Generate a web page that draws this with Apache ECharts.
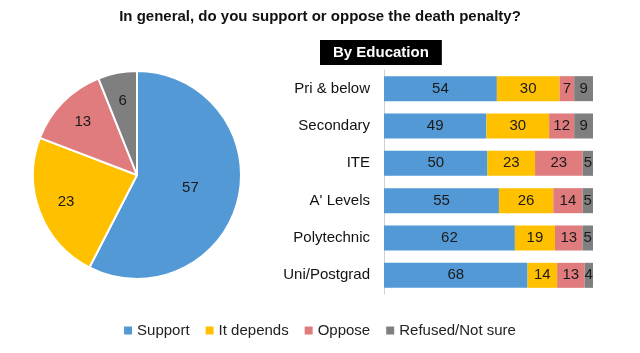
<!DOCTYPE html>
<html><head><meta charset="utf-8">
<script src="https://cdn.jsdelivr.net/npm/echarts@6/dist/echarts.min.js"></script>
<style>html,body{margin:0;padding:0;background:#fff}#c{width:640px;height:353px}</style>
</head><body><div id="c"></div>
<script>
const titleText = 'In general, do you support or oppose the death penalty?';
const subTitle = 'By Education';
const seriesNames = ['Support', 'It depends', 'Oppose', 'Refused/Not sure'];
const colors = ['#5299D5', '#FFC000', '#E07B7E', '#7F7F7F'];
const overall = [57, 23, 13, 6];
const categories = ['Pri & below', 'Secondary', 'ITE', "A' Levels", 'Polytechnic', 'Uni/Postgrad'];
const support = [54, 49, 50, 55, 62, 68];
const itDepends = [30, 30, 23, 26, 19, 14];
const oppose = [7, 12, 23, 14, 13, 13];
const refused = [9, 9, 5, 5, 5, 4];

const rows = [support, itDepends, oppose, refused];
const totals = categories.map((_, i) => rows.reduce((s, r) => s + r[i], 0));
const FONT = 'Liberation Sans, Arial, sans-serif';

const chart = echarts.init(document.getElementById('c'));
const barSeries = rows.map((r, k) => ({
  type: 'bar', name: seriesNames[k], stack: 'all',
  barCategoryGap: '33%',
  itemStyle: { color: colors[k] },
  label: { show: true, position: 'inside', color: '#1a1a1a', fontSize: 15, fontFamily: FONT,
    formatter: p => r[p.dataIndex] },
  data: r.map((v, i) => v / totals[i] * 100)
}));

chart.setOption({
  animation: false,
  title: [
    { text: titleText, left: 'center', top: 4, textStyle: { fontSize: 15, fontWeight: 'bold', color: '#111', fontFamily: FONT } },
    { text: subTitle, left: 320, top: 40, backgroundColor: '#000', padding: [5, 13, 5, 13],
      textStyle: { fontSize: 15, fontWeight: 'bold', color: '#fff', fontFamily: FONT } }
  ],
  legend: {
    data: seriesNames, bottom: 10, left: 'center', icon: 'rect', itemWidth: 8, itemHeight: 8, itemGap: 16,
    textStyle: { fontSize: 15, color: '#222', fontFamily: FONT }
  },
  grid: { left: 384, right: 47, top: 70, bottom: 59 },
  xAxis: { type: 'value', min: 0, max: 100, show: false },
  yAxis: { type: 'category', data: categories, inverse: true,
    axisLine: { show: true, lineStyle: { color: '#D0D0D0' } }, axisTick: { show: false },
    axisLabel: { fontSize: 15, color: '#111', fontFamily: FONT, margin: 14 } },
  series: [
    {
      type: 'pie', center: [137, 175], radius: [0, 104], startAngle: 90, clockwise: true,
      itemStyle: { borderColor: '#fff', borderWidth: 2 },
      label: { show: true, position: 'inside', color: '#1a1a1a', fontSize: 15, fontFamily: FONT, formatter: '{c}' },
      labelLine: { show: false },
      data: overall.map((v, k) => ({ name: seriesNames[k], value: v, itemStyle: { color: colors[k] },
        label: { show: k === 0 } }))
    },
    {
      type: 'pie', center: [137, 175], radius: [42, 104], startAngle: 90, clockwise: true, silent: true,
      itemStyle: { color: 'rgba(0,0,0,0)' },
      label: { show: true, position: 'inside', color: '#1a1a1a', fontSize: 15, fontFamily: FONT, formatter: '{c}' },
      labelLine: { show: false },
      data: overall.map((v, k) => ({ name: seriesNames[k], value: v, label: { show: k !== 0 } }))
    },
    ...barSeries
  ]
});
</script></body></html>
